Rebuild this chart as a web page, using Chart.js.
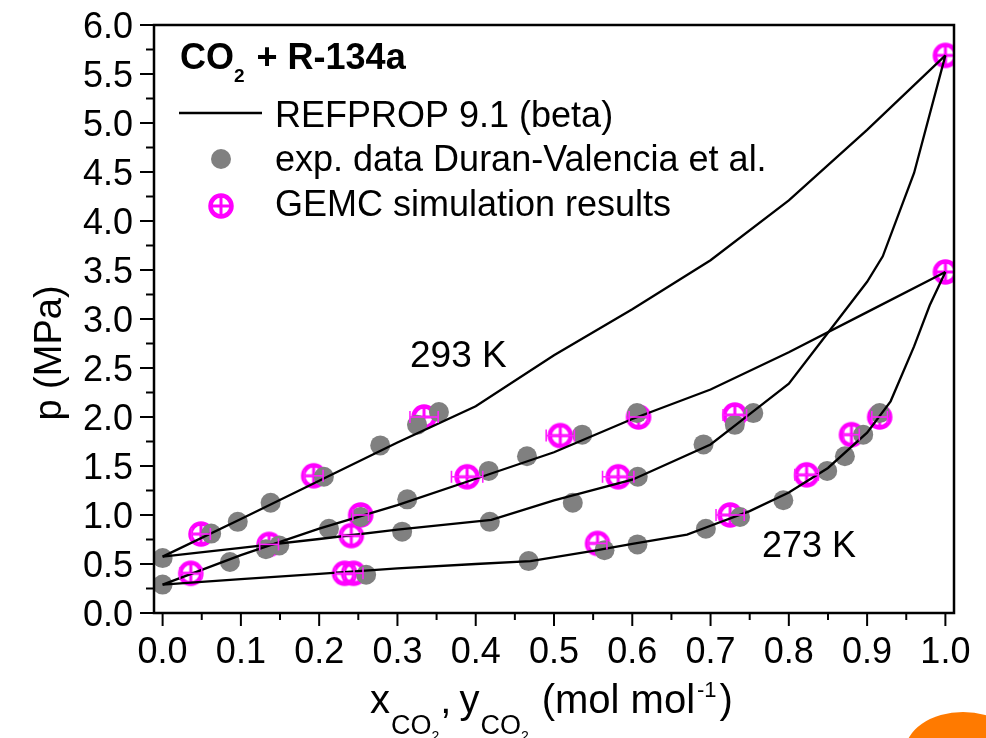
<!DOCTYPE html>
<html>
<head>
<meta charset="utf-8">
<script src="https://cdn.jsdelivr.net/npm/chart.js@4.4.0/dist/chart.umd.min.js"></script>
<style>
  html, body { margin: 0; padding: 0; background: #fff; }
  #wrap { position: relative; width: 986px; height: 738px; }
</style>
</head>
<body>
<div id="wrap"><canvas id="chart" width="986" height="738"></canvas></div>
<script>
// REFPROP curves (x or y of CO2, p in MPa)
const bub293X = [0, 0.1, 0.2, 0.3, 0.4, 0.5, 0.6, 0.7, 0.8, 0.9, 1.0];
const bub293P = [0.575, 0.96, 1.35, 1.74, 2.11, 2.63, 3.10, 3.60, 4.21, 4.93, 5.69];
const dew293X = [0, 0.1, 0.2, 0.3, 0.42, 0.5, 0.6, 0.7, 0.75, 0.8, 0.85, 0.9, 0.92, 0.96, 1.0];
const dew293P = [0.575, 0.665, 0.755, 0.85, 0.95, 1.15, 1.36, 1.72, 2.03, 2.34, 2.86, 3.38, 3.64, 4.49, 5.69];
const bub273X = [0, 0.1, 0.2, 0.3, 0.4, 0.5, 0.6, 0.7, 0.8, 0.9, 1.0];
const bub273P = [0.29, 0.59, 0.86, 1.10, 1.37, 1.64, 1.98, 2.28, 2.66, 3.07, 3.48];
const dew273X = [0, 0.1, 0.2, 0.3, 0.4, 0.47, 0.55, 0.6, 0.67, 0.7, 0.75, 0.8, 0.85, 0.9, 0.93, 0.96, 0.98, 1.0];
const dew273P = [0.29, 0.345, 0.40, 0.455, 0.50, 0.53, 0.635, 0.705, 0.80, 0.89, 1.04, 1.23, 1.48, 1.84, 2.16, 2.72, 3.14, 3.48];

// exp. data Duran-Valencia et al.
const expX = [0, 0, 0.062, 0.096, 0.086, 0.138, 0.132, 0.149, 0.206, 0.2125, 0.278, 0.253, 0.306, 0.3125,
  0.325, 0.353, 0.26, 0.4166, 0.418, 0.4655, 0.4676, 0.536, 0.606, 0.524, 0.607, 0.5645, 0.6066,
  0.691, 0.731, 0.7546, 0.694, 0.7376, 0.793, 0.849, 0.8716, 0.895, 0.916];
const expP = [0.56, 0.29, 0.81, 0.93, 0.52, 1.125, 0.65, 0.69, 1.39, 0.86, 1.71, 0.98, 0.83, 1.16,
  1.92, 2.05, 0.39, 1.45, 0.93, 1.60, 0.53, 1.82, 2.04, 1.125, 1.39, 0.64, 0.70,
  1.72, 1.92, 2.04, 0.86, 0.98, 1.15, 1.45, 1.60, 1.82, 2.04];

// GEMC simulation results with x error
const gemcX = [0.049, 0.036, 0.136, 0.193, 0.253, 0.241, 0.2325, 0.244, 0.334, 0.389, 0.508,
  0.608, 0.582, 0.5556, 0.731, 0.725, 0.8227, 0.880, 0.916, 1.0, 1.0];
const gemcP = [0.806, 0.405, 0.70, 1.40, 1.0, 0.79, 0.405, 0.405, 2.0, 1.39, 1.81,
  2.0, 1.39, 0.71, 2.02, 1.0, 1.41, 1.82, 2.0, 5.69, 3.48];
const gemcErr = [0.012, 0.014, 0.012, 0.012, 0.01, 0.012, 0.012, 0.012, 0.018, 0.02, 0.018,
  0.012, 0.02, 0.012, 0.015, 0.018, 0.015, 0.01, 0.01, 0, 0];

const xTickLabels = ["0.0", "0.1", "0.2", "0.3", "0.4", "0.5", "0.6", "0.7", "0.8", "0.9", "1.0"];
const yTickLabels = ["0.0", "0.5", "1.0", "1.5", "2.0", "2.5", "3.0", "3.5", "4.0", "4.5", "5.0", "5.5", "6.0"];

const FONT = "'Liberation Sans', Arial, sans-serif";
const MAGENTA = "#ff00ff";
const GRAY = "#808080";

function pts(xs, ys) {
  return xs.map((x, i) => ({ x, y: ys[i] }));
}

// circle with plus, used as point style
const gemcMarker = document.createElement("canvas");
gemcMarker.width = 30;
gemcMarker.height = 30;
(function () {
  const c = gemcMarker.getContext("2d");
  c.strokeStyle = MAGENTA;
  c.lineWidth = 4.5;
  c.beginPath();
  c.arc(15, 15, 10.5, 0, Math.PI * 2);
  c.stroke();
  c.lineWidth = 3;
  c.beginPath();
  c.moveTo(4, 15); c.lineTo(26, 15);
  c.moveTo(15, 4); c.lineTo(15, 26);
  c.stroke();
})();

function lineSet(xs, ys) {
  return {
    data: pts(xs, ys),
    showLine: true,
    borderColor: "#000",
    borderWidth: 2.3,
    pointRadius: 0,
    tension: 0,
    fill: false,
    order: 1,
  };
}

function line(ctx, x0, y0, x1, y1) {
  ctx.beginPath();
  ctx.moveTo(x0, y0);
  ctx.lineTo(x1, y1);
  ctx.stroke();
}

function text(ctx, s, x, y, size, bold) {
  ctx.font = (bold ? "bold " : "") + size + "px " + FONT;
  ctx.fillText(s, x, y);
  return ctx.measureText(s).width;
}

const decor = {
  id: "decor",
  beforeDraw(chart) {
    const ctx = chart.ctx;
    ctx.save();
    ctx.fillStyle = "#fff";
    ctx.fillRect(0, 0, chart.width, chart.height);
    ctx.restore();
  },
  afterDatasetsDraw(chart) {
    const { ctx, scales: { x, y } } = chart;
    ctx.save();
    ctx.strokeStyle = "#ff20ff";
    ctx.lineWidth = 1.6;
    gemcX.forEach((v, i) => {
      const e = gemcErr[i];
      if (!e) return;
      const x0 = x.getPixelForValue(v - e);
      const x1 = x.getPixelForValue(v + e);
      const py = y.getPixelForValue(gemcP[i]);
      line(ctx, x0, py, x1, py);
      line(ctx, x0, py - 6, x0, py + 6);
      line(ctx, x1, py - 6, x1, py + 6);
    });
    ctx.restore();
  },
  afterDraw(chart) {
    const { ctx, chartArea: a, scales: { x, y } } = chart;
    ctx.save();
    ctx.strokeStyle = "#000";
    ctx.fillStyle = "#000";

    // ticks (major + minor)
    ctx.lineWidth = 2;
    for (let i = 0; i <= 20; i++) {
      const px = x.getPixelForValue(i / 20);
      line(ctx, px, a.bottom, px, a.bottom + (i % 2 ? 7 : 13));
    }
    for (let j = 0; j <= 24; j++) {
      const py = y.getPixelForValue(j / 4);
      line(ctx, a.left - (j % 2 ? 8 : 14), py, a.left, py);
    }
    // frame
    ctx.lineWidth = 2.5;
    ctx.strokeRect(a.left, a.top, a.right - a.left, a.bottom - a.top);

    // tick labels
    ctx.textBaseline = "alphabetic";
    ctx.font = "36px " + FONT;
    ctx.textAlign = "center";
    xTickLabels.forEach((l) => {
      ctx.fillText(l, x.getPixelForValue(parseFloat(l)), 663);
    });
    ctx.textAlign = "right";
    yTickLabels.forEach((l) => {
      ctx.fillText(l, 133, y.getPixelForValue(parseFloat(l)) + 12.5);
    });

    // y title
    ctx.save();
    ctx.translate(48, 353);
    ctx.rotate(-Math.PI / 2);
    ctx.textAlign = "center";
    ctx.font = "38px " + FONT;
    ctx.fillText("p (MPa)", 0, 13);
    ctx.restore();

    // x title with sub/superscripts
    ctx.textAlign = "left";
    let cx = 370;
    cx += text(ctx, "x", cx, 713, 40);
    cx += text(ctx, "CO", cx + 1, 734, 27);
    cx += text(ctx, "2", cx + 1, 741, 14) + 2;
    cx += text(ctx, ",", cx, 713, 40) + 8;
    cx += text(ctx, "y", cx, 713, 40);
    cx += text(ctx, "CO", cx + 1, 734, 27);
    cx += text(ctx, "2", cx + 1, 741, 14) + 14;
    cx += text(ctx, "(mol mol", cx, 713, 40) + 2;
    cx += text(ctx, "-1", cx, 697, 22);
    text(ctx, ")", cx + 3, 713, 40);

    // legend
    let tx = 180;
    tx += text(ctx, "CO", tx, 69, 36, true);
    tx += text(ctx, "2", tx, 82, 19, true) + 2;
    text(ctx, " + R-134a", tx, 69, 36, true);

    ctx.lineWidth = 2.3;
    line(ctx, 179, 113, 262, 113);
    text(ctx, "REFPROP 9.1 (beta)", 275, 127, 36);

    ctx.fillStyle = GRAY;
    ctx.beginPath();
    ctx.arc(221, 159, 10, 0, Math.PI * 2);
    ctx.fill();
    ctx.fillStyle = "#000";
    text(ctx, "exp. data Duran-Valencia et al.", 275, 171, 36);

    ctx.drawImage(gemcMarker, 221 - 15, 206 - 15);
    text(ctx, "GEMC simulation results", 275, 216, 36);

    // isotherm labels
    text(ctx, "293 K", 410, 367, 37);
    text(ctx, "273 K", 762, 557, 36);

    // orange blob cut off at the corner
    ctx.fillStyle = "#ff7a00";
    ctx.beginPath();
    ctx.ellipse(963, 752, 58, 40, 0, 0, Math.PI * 2);
    ctx.fill();

    ctx.restore();
  },
};

new Chart(document.getElementById("chart"), {
  type: "scatter",
  data: {
    datasets: [
      lineSet(bub293X, bub293P),
      lineSet(dew293X, dew293P),
      lineSet(bub273X, bub273P),
      lineSet(dew273X, dew273P),
      {
        data: pts(expX, expP),
        pointRadius: 10,
        pointBackgroundColor: GRAY,
        pointBorderWidth: 0,
        order: 2,
      },
      {
        data: pts(gemcX, gemcP),
        pointStyle: gemcMarker,
        order: 3,
      },
    ],
  },
  options: {
    responsive: false,
    animation: false,
    events: [],
    layout: { padding: { top: 25, right: 32, left: 0, bottom: 0 }, autoPadding: false },
    plugins: { legend: { display: false }, tooltip: { enabled: false } },
    scales: {
      x: {
        type: "linear",
        min: -0.011,
        max: 1.011,
        grid: { display: false },
        border: { display: false },
        ticks: { display: false },
        afterFit: (s) => {
          s.height = 125;
        },
      },
      y: {
        type: "linear",
        min: 0,
        max: 6,
        grid: { display: false },
        border: { display: false },
        ticks: { display: false },
        afterFit: (s) => {
          s.width = 154;
        },
      },
    },
  },
  plugins: [decor],
});
</script>
</body>
</html>
